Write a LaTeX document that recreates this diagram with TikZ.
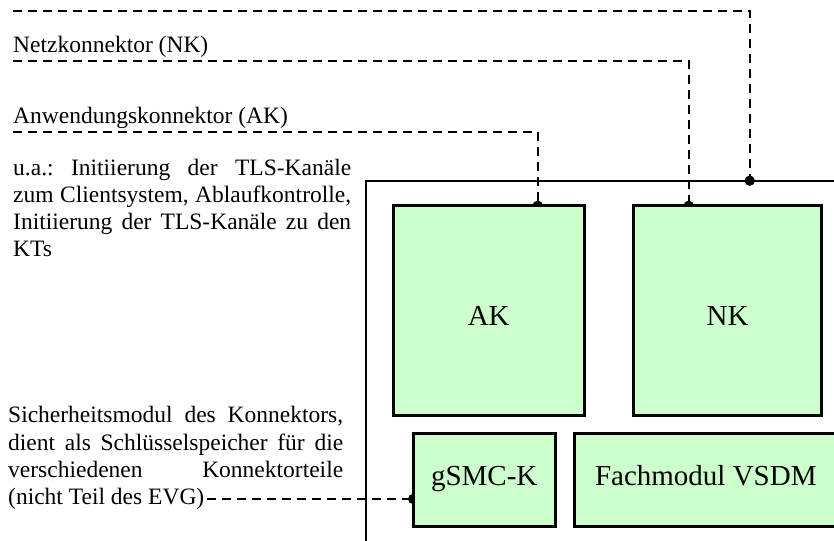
\documentclass[tikz,border=0pt]{standalone}
\usepackage{fontspec}
\setmainfont{Liberation Serif}
\usetikzlibrary{positioning}
\definecolor{modgreen}{RGB}{204,255,204}
\pgfdeclarelayer{back}
\pgfsetlayers{back,main}
\hyphenpenalty=10000
\exhyphenpenalty=10000
\tolerance=10000
\frenchspacing

\begin{document}
\begin{tikzpicture}[x=1pt, y=-1pt,
  txt/.style={font=\fontsize{23.5}{27.2}\selectfont, inner sep=0pt},
  para/.style={txt, align=justify, text width=#1},
  modbox/.style={draw, line width=3pt, fill=modgreen, outer sep=0pt, inner sep=0pt, font=\fontsize{29}{32}\selectfont},
  toprow/.style={modbox, minimum width=#1, minimum height=209.4pt, text height=40.6pt, text depth=10.15pt},
  lowrow/.style={modbox, minimum width=#1, minimum height=93pt, text height=20.3pt, text depth=10.15pt},
  conn/.style={line width=2pt, dash pattern=on 9pt off 6pt},
  blob/.style={fill=black}]
\useasboundingbox (0,0) rectangle (834,540);
% labels on the left
\node[txt, anchor=base west] (nklabel) at (13,53) {Netzkonnektor (NK)};
\node[txt, anchor=base west] (aklabel) at (13,124) {Anwendungskonnektor (AK)};
\node[para=338pt, anchor=north west] (tlstext) at (13,158.5) {u.a.: Initiierung der TLS-Kanäle\linebreak zum Clientsystem, Ablaufkontrolle,\linebreak Initiierung der TLS-Kanäle zu den\linebreak KTs};
\node[para=335pt, anchor=north west] (smtext) at (8,406.3) {Sicherheitsmodul des Konnektors,\linebreak dient als Schlüsselspeicher für die\linebreak verschiedenen Konnektorteile\linebreak (nicht Teil des EVG)};
% connector and its parts
\node[draw, line width=2.2pt, outer sep=0pt, inner sep=0pt, minimum width=600pt, minimum height=420pt, anchor=north west] (konn) at (366.2,180.7) {};
\node[toprow=191pt] (ak) at (488.7,310.5) {AK};
\node[toprow=188.6pt, right=49pt of ak] (nk) {NK};
\node[lowrow=142pt] (gsmc) at (484.2,480.3) {gSMC-K};
\node[lowrow=262pt, right=19.6pt of gsmc] (vsdm) {Fachmodul VSDM};
\coordinate (topstart) at (13,11);
\coordinate (evgdot) at (749.7,180.7);
\coordinate (smend) at (207,499);
\coordinate (nkdot) at ([xshift=-38.8pt]nk.north);
\coordinate (akdot) at ([xshift=49pt]ak.north);
\coordinate (gsmcdot) at ([yshift=-18.7pt]gsmc.west);
\begin{pgfonlayer}{back}
\draw[conn] (topstart) -| (evgdot);
\draw[conn] ([yshift=-8pt]nklabel.base west) -| (nkdot);
\draw[conn] ([yshift=-7.7pt]aklabel.base west) -| (akdot);
\draw[conn] (smend) -- (gsmcdot);
\fill[blob] (evgdot) circle (5.2pt) (nkdot) circle (5.2pt) (akdot) circle (5.2pt) (gsmcdot) circle (5.2pt);
\end{pgfonlayer}
\end{tikzpicture}
\end{document}
